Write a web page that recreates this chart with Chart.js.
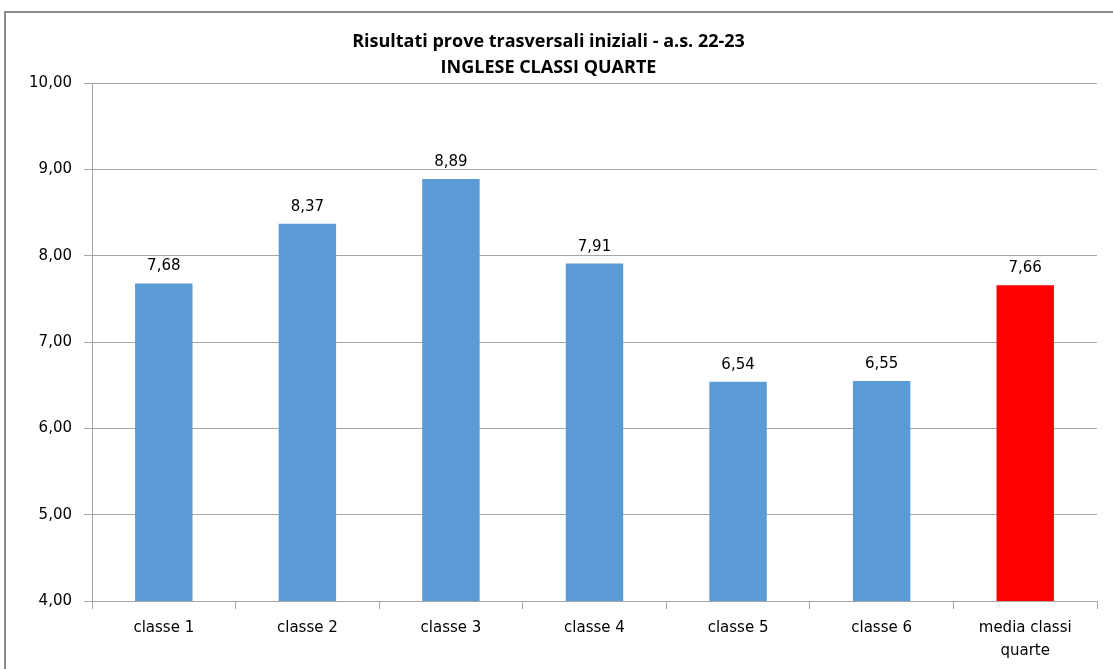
<!DOCTYPE html>
<html>
<head>
<meta charset="utf-8">
<script src="https://cdn.jsdelivr.net/npm/chart.js@4"></script>
<style>
  html, body { margin: 0; padding: 0; background: #fff; }
  #wrap { position: relative; width: 1113px; height: 669px; }
</style>
</head>
<body>
<div id="wrap"><canvas id="c" width="1113" height="669"></canvas></div>
<script>
const categories = ["classe 1", "classe 2", "classe 3", "classe 4", "classe 5", "classe 6", ["media classi", "quarte"]];
const values = [7.68, 8.37, 8.89, 7.91, 6.54, 6.55, 7.66];
const barColors = ["#5B9BD5", "#5B9BD5", "#5B9BD5", "#5B9BD5", "#5B9BD5", "#5B9BD5", "#FF0000"];
const yTicks = [4, 5, 6, 7, 8, 9, 10];
const titleLines = ["Risultati prove trasversali iniziali - a.s. 22-23", "INGLESE CLASSI QUARTE"];

const fmt = v => v.toFixed(2).replace('.', ',');
const FONT = "'DejaVu Sans', sans-serif";

const frame = {
  id: 'frame',
  beforeDraw(chart) {
    const ctx = chart.ctx;
    ctx.save();
    ctx.strokeStyle = '#8c8c8c';
    ctx.lineWidth = 2;
    ctx.beginPath();
    ctx.moveTo(5, 669);
    ctx.lineTo(5, 12);
    ctx.lineTo(1113, 12);
    ctx.stroke();
    ctx.restore();
  }
};

const valueLabels = {
  id: 'valueLabels',
  afterDatasetsDraw(chart) {
    const ctx = chart.ctx;
    const meta = chart.getDatasetMeta(0);
    ctx.save();
    ctx.font = "15px " + FONT;
    ctx.fillStyle = '#000';
    ctx.textAlign = 'center';
    ctx.textBaseline = 'alphabetic';
    meta.data.forEach((bar, i) => {
      ctx.fillText(fmt(values[i]), bar.x, bar.y - 13);
    });
    ctx.restore();
  }
};

new Chart(document.getElementById('c'), {
  type: 'bar',
  data: {
    labels: categories,
    datasets: [{
      data: values,
      backgroundColor: barColors,
      borderWidth: 0,
      barPercentage: 0.8,
      categoryPercentage: 0.5
    }]
  },
  options: {
    responsive: false,
    animation: false,
    layout: { padding: { left: 0, right: 16, top: 0, bottom: 0 } },
    plugins: {
      legend: { display: false },
      tooltip: { enabled: false },
      title: {
        display: true,
        text: titleLines,
        color: '#000',
        font: { family: "'Open Sans', sans-serif", size: 18, weight: 'bold', lineHeight: 1.45 },
        padding: { top: 29, bottom: 2 }
      }
    },
    scales: {
      x: {
        grid: { display: true, drawOnChartArea: false, drawTicks: true, tickLength: 8, color: '#a6a6a6', offset: true },
        border: { display: true, color: '#a6a6a6', width: 1 },
        ticks: { color: '#000', font: { family: FONT, size: 15, lineHeight: 1.5 }, padding: 8, maxRotation: 0, autoSkip: false },
        afterFit(s) { s.height = 68; }
      },
      y: {
        min: 4, max: 10,
        afterBuildTicks(s) { s.ticks = yTicks.map(v => ({ value: v })); },
        grid: { color: '#a6a6a6', tickLength: 8 },
        border: { display: true, color: '#a6a6a6', width: 1 },
        ticks: { color: '#000', font: { family: FONT, size: 15 }, padding: 12, callback: v => fmt(v) },
        afterFit(s) { s.width = 92; }
      }
    }
  },
  plugins: [frame, valueLabels]
});
</script>
</body>
</html>
